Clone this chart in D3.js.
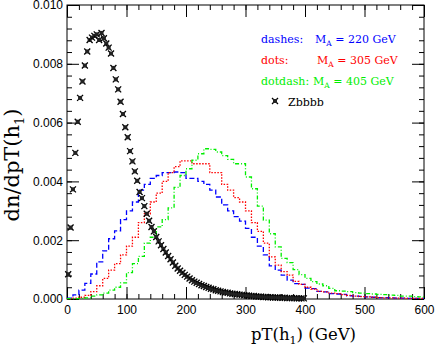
<!DOCTYPE html>
<html>
<head>
<meta charset="utf-8">
<script src="https://cdn.jsdelivr.net/npm/d3@7"></script>
<style>
body { margin: 0; background: #fff; }
svg { display: block; }
.tick text { font-family: "Liberation Sans", Arial, sans-serif; font-size: 12px; fill: #000; }
.tick line { stroke: #000; }
.ttl { font-family: "DejaVu Serif", serif; }
</style>
</head>
<body>
<svg id="chart" width="436" height="346"></svg>
<script>
// histogram bins: 10 GeV wide, 0..600
var binWidth = 10;
var binStart = d3.range(0, 600, binWidth);

// dashes, M_A = 220 GeV
var ma220 = [0.00003, 0.00014, 0.0003, 0.00053, 0.00085, 0.00126, 0.00164, 0.00205, 0.00232, 0.0027,
             0.0030, 0.0033, 0.0037, 0.0039, 0.0041, 0.0042, 0.0043, 0.0043, 0.00432, 0.0043,
             0.0041, 0.0041, 0.0040, 0.0039, 0.0037, 0.00347, 0.0032, 0.0030, 0.0028, 0.00265,
             0.0024, 0.0021, 0.0018, 0.0015, 0.00113, 0.00098, 0.00081, 0.00064, 0.00052, 0.0005,
             0.00037, 0.00035, 0.00026, 0.00024, 0.00018, 0.00017, 0.00016, 0.00011, 0.0001, 0.00009,
             0.00007, 0.00006, 0.00005, 0.00005, 0.00004, 0.00003, 0.00003, 0.00002, 0.00002, 0.00002];
// dots, M_A = 305 GeV
var ma305 = [0.00001, 0.00003, 0.00006, 0.00012, 0.00025, 0.00045, 0.0007, 0.00098, 0.0012, 0.0015,
             0.0018, 0.0021, 0.0026, 0.0029, 0.0033, 0.0036, 0.0040, 0.0043, 0.0045, 0.0047,
             0.0047, 0.0046, 0.0046, 0.0046, 0.0043, 0.0043, 0.0039, 0.0037, 0.00345, 0.0033,
             0.0030, 0.0026, 0.0023, 0.0019, 0.00143, 0.00115, 0.00093, 0.00081, 0.0006, 0.0005,
             0.0004, 0.00034, 0.00026, 0.00024, 0.0002, 0.00018, 0.00015, 0.00012, 0.0001, 0.00008,
             0.00007, 0.00006, 0.00005, 0.00004, 0.00004, 0.00003, 0.00003, 0.00002, 0.00002, 0.00002];
// dotdash, M_A = 405 GeV
var ma405 = [0.00001, 0.00001, 0.00002, 0.00004, 0.0001, 0.00014, 0.0002, 0.0003, 0.0004, 0.00055,
             0.0009, 0.0012, 0.00145, 0.0019, 0.0021, 0.00245, 0.0027, 0.0031, 0.0038, 0.0042,
             0.00443, 0.00472, 0.00494, 0.00511, 0.00509, 0.0050, 0.00488, 0.00475, 0.0046, 0.0046,
             0.00415, 0.00375, 0.00316, 0.00268, 0.00222, 0.00177, 0.00138, 0.00124, 0.0010, 0.00083,
             0.0007, 0.00059, 0.00051, 0.00045, 0.00036, 0.00028, 0.00027, 0.00025, 0.00022, 0.0002,
             0.00018, 0.00017, 0.00016, 0.00015, 0.00013, 0.00012, 0.0001, 0.0001, 0.00008, 0.00007];

// Zbbbb background, points every 4 GeV (2..398)
var zbbbbX = d3.range(2, 400, 4);
var zbbbb = [0.00084, 0.00243, 0.00373, 0.00497, 0.00603, 0.00684, 0.0074, 0.00794, 0.00842, 0.00881,
             0.00889, 0.00895, 0.0090, 0.00881, 0.00905, 0.00887, 0.00869, 0.00855, 0.00835, 0.00786,
             0.00747, 0.00713, 0.00671, 0.00629, 0.00584, 0.0055, 0.00503, 0.00468, 0.00434, 0.00402,
             0.00364, 0.00343, 0.00316, 0.0029, 0.00266, 0.00245, 0.0023,
             0.00211, 0.00196, 0.00183, 0.0017, 0.00158, 0.00146, 0.00135, 0.00124, 0.00113, 0.00104,
             0.00096, 0.00089, 0.00082, 0.00076, 0.0007, 0.00064, 0.00059, 0.00055, 0.00051, 0.00047,
             0.00044, 0.00041, 0.00038, 0.00035, 0.00033, 0.0003, 0.00028, 0.00026, 0.00024, 0.00022,
             0.00021, 0.00019, 0.00018, 0.00017, 0.00016, 0.00015, 0.00014, 0.00013, 0.00012, 0.00011,
             0.0001, 0.0001, 0.00009, 0.00008, 0.00008, 0.00007, 0.00007, 0.00006, 0.00006, 0.00005,
             0.00005, 0.00005, 0.00004, 0.00004, 0.00004, 0.00003, 0.00003, 0.00003, 0.00003, 0.00002,
             0.00002, 0.00002, 0.00002];

var xTicks = [0, 100, 200, 300, 400, 500, 600];
var yTicks = [0, 0.002, 0.004, 0.006, 0.008, 0.010];
var xMinor = d3.range(0, 601, 20);
var yMinor = d3.range(0, 26).map(function(i){ return i * 0.0004; });

(function(){
var pLeft = 67, pRight = 424, pTop = 5, pBottom = 299;
var svg = d3.select("#chart");
var x = d3.scaleLinear().domain([0, 600]).range([pLeft, pRight]);
var y = d3.scaleLinear().domain([0, 0.010]).range([pBottom, pTop]);

function noDomain(g){ g.select(".domain").remove(); }

// minor ticks, all four sides, pointing in
svg.append("g").attr("transform", "translate(0," + pBottom + ")")
  .call(d3.axisBottom(x).tickValues(xMinor).tickSize(-5).tickFormat("")).call(noDomain);
svg.append("g").attr("transform", "translate(0," + pTop + ")")
  .call(d3.axisTop(x).tickValues(xMinor).tickSize(-5).tickFormat("")).call(noDomain);
svg.append("g").attr("transform", "translate(" + pLeft + ",0)")
  .call(d3.axisLeft(y).tickValues(yMinor).tickSize(-5).tickFormat("")).call(noDomain);
svg.append("g").attr("transform", "translate(" + pRight + ",0)")
  .call(d3.axisRight(y).tickValues(yMinor).tickSize(-5).tickFormat("")).call(noDomain);

// major ticks + labels
svg.append("g").attr("transform", "translate(0," + pBottom + ")")
  .call(d3.axisBottom(x).tickValues(xTicks).tickSize(-12).tickPadding(6).tickFormat(d3.format("d"))).call(noDomain);
svg.append("g").attr("transform", "translate(0," + pTop + ")")
  .call(d3.axisTop(x).tickValues(xTicks).tickSize(-12).tickFormat("")).call(noDomain);
svg.append("g").attr("transform", "translate(" + pLeft + ",0)")
  .call(d3.axisLeft(y).tickValues(yTicks).tickSize(-12).tickPadding(4).tickFormat(d3.format(".3f"))).call(noDomain);
svg.append("g").attr("transform", "translate(" + pRight + ",0)")
  .call(d3.axisRight(y).tickValues(yTicks).tickSize(-12).tickFormat("")).call(noDomain);

// frame
svg.append("rect")
  .attr("x", pLeft).attr("y", pTop)
  .attr("width", pRight - pLeft).attr("height", pBottom - pTop)
  .attr("fill", "none").attr("stroke", "#000").attr("stroke-width", 1);

// step histograms
var step = d3.line()
  .x(function(d){ return x(d[0]); })
  .y(function(d){ return y(d[1]); })
  .curve(d3.curveStepAfter);

function drawHist(vals, color, dash){
  var pts = binStart.map(function(b, i){ return [b, vals[i]]; });
  pts.push([600, vals[vals.length - 1]]);
  svg.append("path")
    .attr("d", step(pts))
    .attr("fill", "none")
    .attr("stroke", color)
    .attr("stroke-width", 1.3)
    .attr("stroke-dasharray", dash);
}
drawHist(ma220, "#0000ff", "5,2.5");
drawHist(ma305, "#ff0000", "1.5,1.5");
drawHist(ma405, "#00ee00", "4,2,1,2");

// star markers
function marker(g){
  g.append("path")
    .attr("d", "M-3,-3L3,3M-3,3L3,-3")
    .attr("stroke", "#000").attr("stroke-width", 1.3);
  g.append("rect")
    .attr("x", -2).attr("y", -2).attr("width", 4).attr("height", 4)
    .attr("fill", "#222");
}
svg.append("g").selectAll("g")
  .data(zbbbb)
  .enter().append("g")
  .attr("transform", function(d, i){ return "translate(" + x(zbbbbX[i]) + "," + y(d) + ")"; })
  .each(function(){ marker(d3.select(this)); });

// legend
var legend = [
  { lab: "dashes:",  mx: 315, val: " = 220 GeV", color: "#0000ff", yy: 43 },
  { lab: "dots:",    mx: 317, val: " = 305 GeV", color: "#ff0000", yy: 64 },
  { lab: "dotdash:", mx: 313, val: " = 405 GeV", color: "#00ee00", yy: 85 }
];
legend.forEach(function(r){
  svg.append("text").attr("class", "ttl").attr("x", 261).attr("y", r.yy)
    .attr("font-size", 11).style("fill", r.color).text(r.lab);
  var t = svg.append("text").attr("class", "ttl").attr("x", r.mx).attr("y", r.yy)
    .attr("font-size", 11).style("fill", r.color);
  t.append("tspan").text("M");
  t.append("tspan").attr("font-size", 7.5).attr("dy", 2.5).text("A");
  t.append("tspan").attr("dy", -2.5).text(r.val);
});
var lm = svg.append("g").attr("transform", "translate(275,101)");
marker(lm);
svg.append("text").attr("class", "ttl").attr("x", 288).attr("y", 106)
  .attr("font-size", 11).style("fill", "#000").text("Zbbbb");

// axis titles
var xt = svg.append("text").attr("class", "ttl")
  .attr("x", 303.5).attr("y", 340).attr("text-anchor", "middle")
  .attr("font-size", 16.5).style("fill", "#000");
xt.append("tspan").text("pT(h");
xt.append("tspan").attr("font-size", 11).attr("dy", 4).text("1");
xt.append("tspan").attr("dy", -4).text(") (GeV)");

var yt = svg.append("text").attr("class", "ttl")
  .attr("transform", "translate(19,165) rotate(-90)")
  .attr("text-anchor", "middle").attr("font-size", 21).style("fill", "#000");
yt.append("tspan").text("dn/dpT(h");
yt.append("tspan").attr("font-size", 13).attr("dy", 5).text("1");
yt.append("tspan").attr("dy", -5).text(")");
})();
</script>
</body>
</html>
